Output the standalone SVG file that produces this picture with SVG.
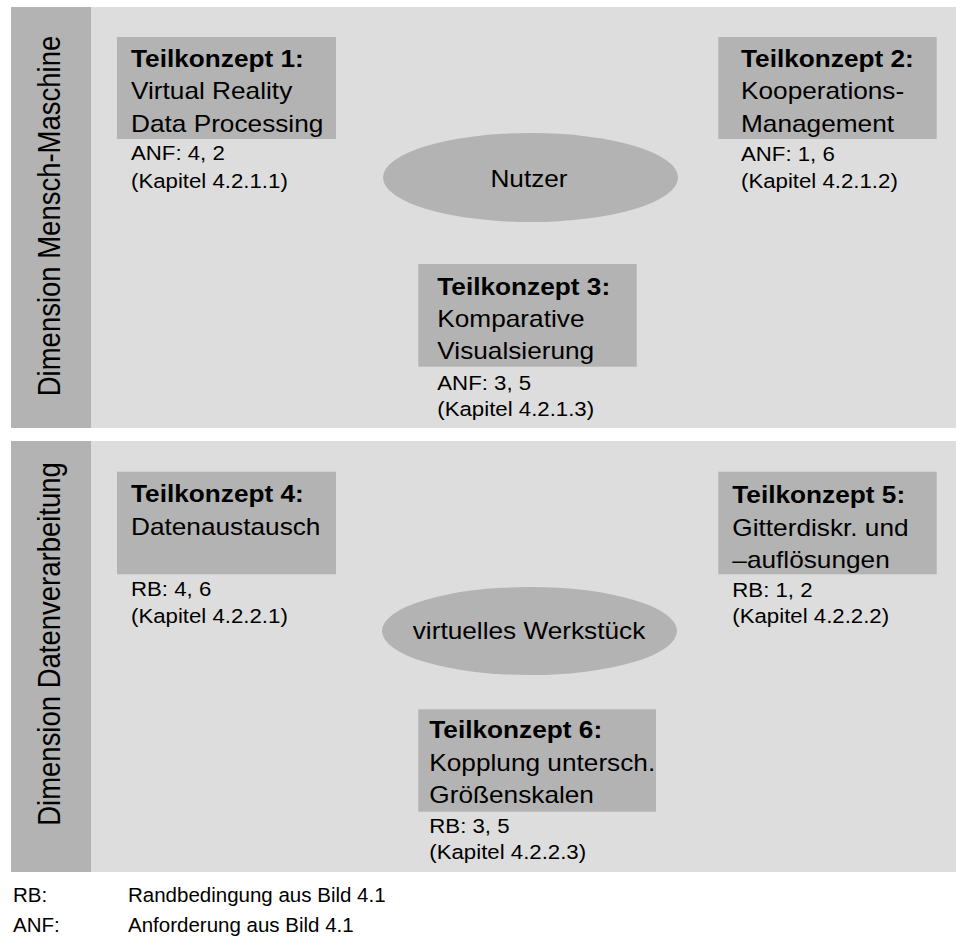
<svg xmlns="http://www.w3.org/2000/svg" width="956" height="940" viewBox="0 0 956 940">
  <style>
    .panel { fill: #dddddd; }
    .bar { fill: #b3b3b3; }
    .box { fill: #b3b3b3; }
    .hub { fill: #b3b3b3; }
    text { font-family: "Liberation Sans", Arial, sans-serif; fill: #000000; }
    .t { font-size: 23px; font-weight: bold; }
    .b { font-size: 23px; }
    .s { font-size: 19.5px; }
    .dim { font-size: 27.5px; text-anchor: middle; }
    .hubtext { font-size: 23px; text-anchor: middle; }
    .leg { font-size: 20.5px; }
  </style>

  <!-- Dimension Mensch-Maschine -->
  <g id="panel-mensch-maschine">
    <rect class="panel" x="11" y="7" width="945" height="421"/>
    <rect class="bar" x="11" y="7" width="80" height="421"/>
    <text class="dim" transform="matrix(0,-1,1.14,0,60,216)">Dimension Mensch-Maschine</text>
  </g>

  <!-- Dimension Datenverarbeitung -->
  <g id="panel-datenverarbeitung">
    <rect class="panel" x="11" y="441" width="945" height="431"/>
    <rect class="bar" x="11" y="441" width="80" height="431"/>
    <text class="dim" transform="matrix(0,-1,1.14,0,60,644)">Dimension Datenverarbeitung</text>
  </g>

  <g id="hub-nutzer">
    <ellipse class="hub" cx="530.5" cy="177.5" rx="147.5" ry="44.5"/>
    <text class="hubtext" transform="matrix(1.14,0,0,1,529,186.5)">Nutzer</text>
  </g>

  <g id="hub-werkstueck">
    <ellipse class="hub" cx="529.5" cy="631" rx="147.5" ry="44"/>
    <text class="hubtext" transform="matrix(1.14,0,0,1,529,638.5)">virtuelles Werkstück</text>
  </g>

  <g id="teilkonzept-1">
    <rect class="box" x="117" y="37" width="219" height="102"/>
    <text class="t" transform="matrix(1.14,0,0,1,131,66.5)">Teilkonzept 1:</text>
    <text class="b" transform="matrix(1.14,0,0,1,131,99.3)">Virtual Reality</text>
    <text class="b" transform="matrix(1.14,0,0,1,131,131.7)">Data Processing</text>
    <text class="s" transform="matrix(1.14,0,0,1,131,160)">ANF: 4, 2</text>
    <text class="s" transform="matrix(1.14,0,0,1,131,188)">(Kapitel 4.2.1.1)</text>
  </g>

  <g id="teilkonzept-2">
    <rect class="box" x="718.3" y="37" width="218.4" height="102"/>
    <text class="t" transform="matrix(1.14,0,0,1,741,66.5)">Teilkonzept 2:</text>
    <text class="b" transform="matrix(1.14,0,0,1,741,99.3)">Kooperations-</text>
    <text class="b" transform="matrix(1.14,0,0,1,741,131.7)">Management</text>
    <text class="s" transform="matrix(1.14,0,0,1,741,160.5)">ANF: 1, 6</text>
    <text class="s" transform="matrix(1.14,0,0,1,741,188)">(Kapitel 4.2.1.2)</text>
  </g>

  <g id="teilkonzept-3">
    <rect class="box" x="418.3" y="264" width="218.4" height="102.7"/>
    <text class="t" transform="matrix(1.14,0,0,1,437.3,295)">Teilkonzept 3:</text>
    <text class="b" transform="matrix(1.14,0,0,1,437.3,327)">Komparative</text>
    <text class="b" transform="matrix(1.14,0,0,1,437.3,358.5)">Visualsierung</text>
    <text class="s" transform="matrix(1.14,0,0,1,437.3,389.5)">ANF: 3, 5</text>
    <text class="s" transform="matrix(1.14,0,0,1,437.3,416)">(Kapitel 4.2.1.3)</text>
  </g>

  <g id="teilkonzept-4">
    <rect class="box" x="117" y="471.7" width="219" height="102.6"/>
    <text class="t" transform="matrix(1.14,0,0,1,131,501.7)">Teilkonzept 4:</text>
    <text class="b" transform="matrix(1.14,0,0,1,131,535)">Datenaustausch</text>
    <text class="s" transform="matrix(1.14,0,0,1,131,596)">RB: 4, 6</text>
    <text class="s" transform="matrix(1.14,0,0,1,131,623.3)">(Kapitel 4.2.2.1)</text>
  </g>

  <g id="teilkonzept-5">
    <rect class="box" x="718.3" y="471.7" width="218.4" height="102.6"/>
    <text class="t" transform="matrix(1.14,0,0,1,732.3,503.3)">Teilkonzept 5:</text>
    <text class="b" transform="matrix(1.14,0,0,1,732.3,535.5)">Gitterdiskr. und</text>
    <text class="b" transform="matrix(1.14,0,0,1,732.3,567.7)">–auflösungen</text>
    <text class="s" transform="matrix(1.14,0,0,1,732.3,596.7)">RB: 1, 2</text>
    <text class="s" transform="matrix(1.14,0,0,1,732.3,623.3)">(Kapitel 4.2.2.2)</text>
  </g>

  <g id="teilkonzept-6">
    <rect class="box" x="418.3" y="709.3" width="237.7" height="102.4"/>
    <text class="t" transform="matrix(1.14,0,0,1,429.3,738.3)">Teilkonzept 6:</text>
    <text class="b" transform="matrix(1.14,0,0,1,429.3,771)">Kopplung untersch.</text>
    <text class="b" transform="matrix(1.14,0,0,1,429.3,803.3)">Größenskalen</text>
    <text class="s" transform="matrix(1.14,0,0,1,429.3,832.7)">RB: 3, 5</text>
    <text class="s" transform="matrix(1.14,0,0,1,429.3,859)">(Kapitel 4.2.2.3)</text>
  </g>

  <g id="legend">
    <text class="leg" x="13" y="902">RB:</text>
    <text class="leg" x="128" y="902">Randbedingung aus Bild 4.1</text>
    <text class="leg" x="13" y="932">ANF:</text>
    <text class="leg" x="128" y="932">Anforderung aus Bild 4.1</text>
  </g>
</svg>
